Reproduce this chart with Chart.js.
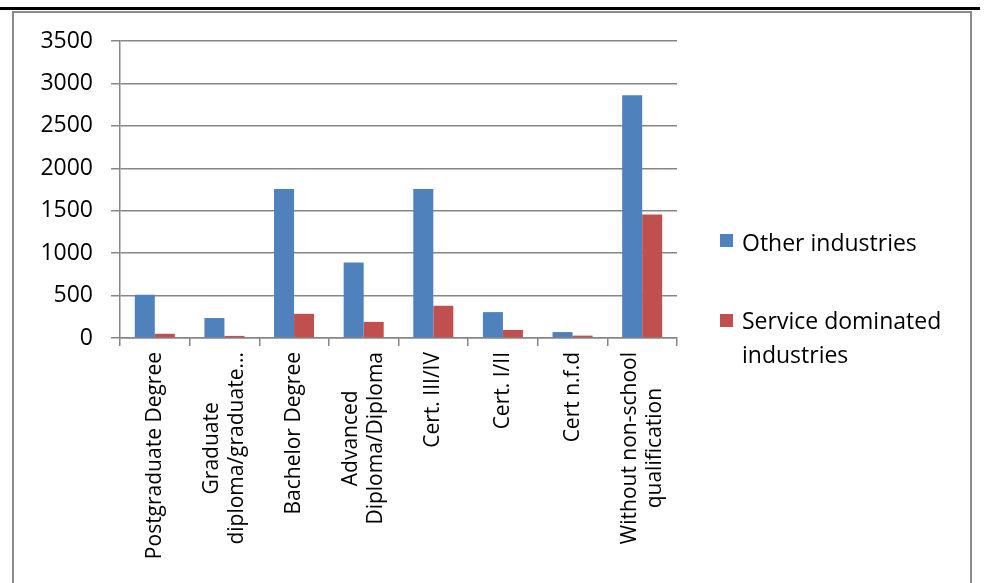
<!DOCTYPE html>
<html>
<head>
<meta charset="utf-8">
<script src="https://cdn.jsdelivr.net/npm/chart.js@4"></script>
<style>
  html, body { margin:0; padding:0; background:#fff; width:991px; height:583px; overflow:hidden; }
  #topline { position:absolute; left:0; top:7px; width:980px; height:3px; background:#000; }
  #box { position:absolute; left:12px; top:11px; width:956px; height:600px; border:2px solid #8a8a8a; }
  #wrap { position:absolute; left:0; top:0; width:991px; height:583px; }
  .leg { position:absolute; font-family:"Open Sans", sans-serif; font-size:23px; color:#000; line-height:34px; white-space:nowrap; }
  .sw { position:absolute; width:13px; height:13px; }
</style>
</head>
<body>
<div id="topline"></div>
<div id="box"></div>
<div id="wrap"><canvas id="c" width="991" height="583"></canvas></div>
<div id="legend"></div>
<script>
const categories = [
  "Postgraduate Degree",
  ["Graduate", "diploma/graduate..."],
  "Bachelor Degree",
  ["Advanced", "Diploma/Diploma"],
  "Cert. III/IV",
  "Cert. I/II",
  "Cert n.f.d",
  ["Without non-school", "qualification"]
];
const seriesNames = ["Other industries", ["Service dominated", "industries"]];
const otherIndustries = [510, 235, 1755, 890, 1755, 305, 70, 2860];
const serviceIndustries = [50, 25, 285, 190, 380, 95, 28, 1455];
const seriesColors = ["#4F81BD", "#C0504D"];
const yTicks = [0, 500, 1000, 1500, 2000, 2500, 3000, 3500];

const FONT = '"Open Sans", sans-serif';
const GRID = '#868686';

const xLabelPlugin = {
  id: 'xlabels',
  afterDraw(chart) {
    const sx = chart.scales.x;
    const ctx = chart.ctx;
    ctx.save();
    ctx.font = '21px ' + FONT;
    ctx.fillStyle = '#000';
    const lh = 25;
    const gap = 14;
    categories.forEach((lab, i) => {
      const lines = Array.isArray(lab) ? lab : [lab];
      const x = sx.getPixelForTick(i);
      const maxW = Math.max(...lines.map(l => ctx.measureText(l).width));
      const center = chart.chartArea.bottom + gap + maxW / 2;
      lines.forEach((ln, j) => {
        const off = (j - (lines.length - 1) / 2) * lh;
        ctx.save();
        ctx.translate(x + off, center);
        ctx.rotate(-Math.PI / 2);
        ctx.textAlign = 'center';
        ctx.textBaseline = 'middle';
        ctx.fillText(ln, 0, 0);
        ctx.restore();
      });
    });
    ctx.restore();
  }
};

const chart = new Chart(document.getElementById('c'), {
  type: 'bar',
  data: {
    labels: categories.map(c => Array.isArray(c) ? c.join(' ') : c),
    datasets: [
      { label: seriesNames[0], data: otherIndustries, backgroundColor: seriesColors[0], borderWidth: 0 },
      { label: seriesNames[1].join(' '), data: serviceIndustries, backgroundColor: seriesColors[1], borderWidth: 0 }
    ]
  },
  options: {
    responsive: false,
    animation: false,
    devicePixelRatio: 1,
    layout: { padding: { left: 20, right: 314, top: 41, bottom: 0 } },
    plugins: { legend: { display: false }, tooltip: { enabled: false }, title: { display: false } },
    datasets: { bar: { categoryPercentage: 0.575, barPercentage: 1.0 } },
    scales: {
      x: {
        grid: { display: true, drawOnChartArea: false, drawTicks: true, tickLength: 8, color: GRID, lineWidth: 1.5, offset: true },
        border: { display: true, color: GRID, width: 1.5 },
        ticks: { display: false },
        afterFit(s) { s.height = 245; }
      },
      y: {
        min: 0, max: 3500,
        afterBuildTicks(s) { s.ticks = yTicks.map(v => ({ value: v })); },
        grid: { color: GRID, lineWidth: 1.5, tickLength: 9, drawTicks: true },
        border: { display: true, color: GRID, width: 1.5 },
        ticks: { font: { family: FONT, size: 23 }, color: '#000', padding: 18, callback: v => String(v) },
        afterFit(s) { s.width = 100; }
      }
    }
  },
  plugins: [xLabelPlugin]
});

// Legend drawn as HTML text using series names and colours
const legend = document.getElementById('legend');
const legendPos = [ { sx: 720, sy: 234, tx: 742, ty: 225 }, { sx: 720, sy: 314, tx: 742, ty: 303 } ];
seriesNames.forEach((name, i) => {
  const sw = document.createElement('div');
  sw.className = 'sw';
  sw.style.left = legendPos[i].sx + 'px';
  sw.style.top = legendPos[i].sy + 'px';
  sw.style.background = seriesColors[i];
  legend.appendChild(sw);
  const t = document.createElement('div');
  t.className = 'leg';
  t.style.left = legendPos[i].tx + 'px';
  t.style.top = legendPos[i].ty + 'px';
  t.innerHTML = (Array.isArray(name) ? name : [name]).join('<br>');
  legend.appendChild(t);
});
</script>
</body>
</html>
